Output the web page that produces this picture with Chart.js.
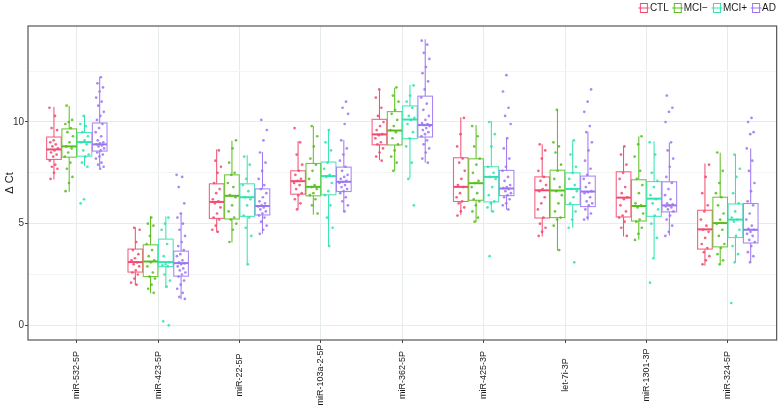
<!DOCTYPE html>
<html>
<head>
<meta charset="utf-8">
<script src="https://cdn.jsdelivr.net/npm/chart.js@4.4.1/dist/chart.umd.min.js"></script>
<style>
html,body{margin:0;padding:0;background:#fff;}
canvas{display:block;}
</style>
</head>
<body>
<canvas id="c" width="778" height="407"></canvas>
<script>
// ---------- DATA ----------
const categories = ["miR-532-5P","miR-423-5P","miR-22-5P","miR-103a-2-5P","miR-362-5P","miR-425-3P","let-7i-3P","miR-1301-3P","miR-324-5P"];
const groups = ["CTL","MCI\u2212","MCI+","AD"];
const yTickValues = [0,2.5,5,7.5,10,12.5];

// box stats per category: [lower whisker, Q1, median, Q3, upper whisker]
const ctlStats = [[7.17,8.16,8.65,9.26,10.74],[1.97,2.62,3.11,3.75,4.82],[4.57,5.26,6.07,6.96,8.65],[5.69,6.45,7.09,7.60,9.06],[8.12,8.88,9.39,10.13,11.58],[5.43,6.09,6.81,8.24,10.23],[4.37,5.28,6.64,7.30,8.90],[4.37,5.33,6.28,7.55,8.79],[2.93,3.75,4.72,5.66,7.96]];
const mciMinusStats = [[6.56,8.27,8.80,9.66,10.79],[1.58,2.40,3.14,3.96,5.36],[4.08,5.23,6.37,7.40,9.08],[5.44,6.37,6.81,7.96,9.80],[7.60,8.87,9.58,10.51,11.68],[5.06,6.15,6.99,8.19,9.85],[3.67,5.30,6.63,7.63,10.63],[4.21,5.13,5.87,7.16,9.29],[3.03,3.86,5.03,6.30,8.49]];
const mciPlusStats = [[7.83,8.32,9.01,9.48,10.33],[1.83,2.89,3.11,4.24,5.36],[2.96,5.36,6.30,6.96,8.37],[3.91,6.42,7.34,8.03,9.64],[7.22,9.18,10.12,10.79,11.83],[5.56,6.07,7.30,7.80,10.05],[4.79,5.94,6.71,7.50,9.08],[3.34,5.36,6.23,7.07,9.05],[3.12,4.32,5.20,5.97,8.41]];
const adStats = [[7.72,8.57,8.90,9.95,12.22],[1.28,2.42,3.06,3.65,5.53],[4.51,5.43,5.87,6.71,8.52],[5.56,6.58,7.06,7.78,9.11],[8.00,9.26,9.85,11.27,14.07],[5.69,6.38,6.73,7.62,9.23],[5.16,5.84,6.58,7.34,9.51],[4.42,5.58,5.90,7.06,8.98],[3.11,4.05,4.70,5.99,8.70]];

// individual observations per category
const ctlPoints = [
 [10.7,10.3,9.7,9.6,9.1,9.0,8.9,8.8,8.7,8.6,8.5,8.4,8.3,8.1,7.9,7.8,7.7,7.5,7.2],
 [4.8,4.7,4.1,3.7,3.5,3.3,3.2,3.1,3.0,2.9,2.7,2.6,2.5,2.3,2.1,2.0],
 [8.6,8.1,7.8,7.5,7.0,6.7,6.5,6.2,6.1,6.0,5.8,5.5,5.3,5.2,4.9,4.7,4.6],
 [9.7,9.0,8.4,7.9,7.6,7.4,7.2,7.1,7.0,6.9,6.7,6.5,6.4,6.2,6.0,5.7],
 [11.6,11.2,10.7,10.3,10.0,9.8,9.6,9.4,9.35,9.2,9.0,8.9,8.7,8.5,8.3,8.1],
 [10.2,9.4,8.8,8.2,8.0,7.6,7.2,6.9,6.8,6.5,6.3,6.1,6.0,5.8,5.6,5.4],
 [8.9,8.6,8.2,7.6,7.3,7.1,6.9,6.7,6.6,6.3,6.0,5.7,5.3,5.0,4.8,4.6,4.4],
 [8.8,8.4,7.9,7.5,7.2,6.8,6.5,6.3,6.2,5.9,5.6,5.4,5.3,5.1,4.8,4.4],
 [7.9,7.3,6.5,5.9,5.6,5.2,4.9,4.7,4.6,4.3,4.0,3.8,3.6,3.4,3.2,3.0]
];
const mciMinusPoints = [
 [10.8,10.1,10.0,9.9,9.7,9.5,9.3,9.0,8.8,8.7,8.5,8.3,8.0,7.7,7.3,7.0,6.6],
 [5.3,5.0,4.9,4.4,4.0,3.7,3.4,3.2,3.1,2.9,2.6,2.4,2.3,2.0,1.8,1.6],
 [9.1,8.7,8.0,7.5,7.4,7.0,6.8,6.4,6.3,5.9,5.6,5.3,5.2,5.0,4.7,4.1],
 [9.8,9.3,8.8,8.2,7.9,7.6,7.2,6.9,6.8,6.7,6.5,6.4,6.2,5.9,5.5],
 [11.7,11.3,11.0,10.6,10.4,10.1,9.8,9.6,9.5,9.2,8.9,8.6,8.3,8.0,7.6],
 [9.8,9.3,8.8,8.2,7.9,7.5,7.1,7.0,6.8,6.5,6.2,6.1,5.9,5.6,5.3,5.1],
 [10.6,9.0,8.8,8.5,7.9,7.6,7.2,6.8,6.6,6.4,6.0,5.6,5.3,5.2,4.9,3.7],
 [9.3,8.9,8.3,7.6,7.2,6.9,6.5,6.0,5.9,5.8,5.5,5.2,5.1,4.8,4.5,4.2],
 [8.5,7.6,7.0,6.5,6.3,5.9,5.5,5.2,5.0,4.7,4.4,4.0,3.8,3.5,3.2,3.0]
];
const mciPlusPoints = [
 [10.3,9.9,9.8,9.5,9.3,9.1,9.0,8.9,8.6,8.4,8.3,8.0,7.8,6.2,6.0],
 [5.3,5.0,4.7,4.0,3.4,3.1,3.0,2.95,2.9,2.5,2.2,1.9,0.2,0.0],
 [8.3,7.9,7.2,6.9,6.6,6.3,6.2,5.9,5.4,5.3,4.8,4.4,3.0],
 [9.6,9.0,8.6,8.0,7.7,7.4,7.3,7.0,6.6,6.4,5.9,5.3,4.8,3.9],
 [11.8,11.3,11.0,10.7,10.3,10.2,10.1,9.9,9.5,9.2,8.8,8.0,7.2,5.9],
 [10.0,9.4,8.8,7.8,7.5,7.3,7.2,6.8,6.4,6.1,6.0,5.8,5.6,3.4],
 [9.1,8.4,7.8,7.5,7.2,6.9,6.7,6.6,6.3,6.0,5.6,5.2,4.8,3.1],
 [9.0,8.4,7.5,7.1,6.8,6.4,6.2,6.0,5.7,5.4,5.0,4.3,3.3,2.1],
 [8.4,7.7,7.3,6.5,6.0,5.6,5.3,5.2,5.1,4.7,4.4,3.9,3.5,3.1,1.1]
];
const adPoints = [
 [12.2,11.9,11.7,11.5,11.2,11.0,10.8,10.5,10.3,10.1,9.9,9.7,9.5,9.3,9.1,9.0,8.95,8.9,8.85,8.8,8.7,8.6,8.5,8.4,8.3,8.2,8.0,7.9,7.8,7.7],
 [7.4,7.3,6.8,6.0,5.5,5.3,5.0,4.7,4.4,4.1,3.9,3.7,3.5,3.4,3.2,3.1,3.05,3.0,2.9,2.8,2.7,2.6,2.5,2.4,2.2,2.0,1.8,1.6,1.4,1.3],
 [10.1,9.6,9.1,8.5,8.0,7.6,7.2,6.9,6.7,6.5,6.3,6.1,6.0,5.9,5.85,5.8,5.7,5.6,5.5,5.4,5.3,5.1,4.9,4.7,4.5],
 [11.0,10.7,10.4,9.9,9.1,8.7,8.4,8.1,7.8,7.6,7.4,7.3,7.2,7.1,7.05,7.0,6.9,6.8,6.7,6.6,6.5,6.3,6.1,5.9,5.6],
 [14.0,13.8,13.4,13.1,12.7,12.4,12.0,11.6,11.2,10.9,10.6,10.3,10.1,9.95,9.9,9.85,9.8,9.7,9.6,9.5,9.4,9.3,9.1,8.9,8.7,8.5,8.2,8.0],
 [12.3,11.5,10.7,10.3,9.9,9.2,8.7,8.2,7.8,7.6,7.3,7.1,6.9,6.8,6.75,6.7,6.6,6.5,6.4,6.3,6.2,6.0,5.9,5.7],
 [11.6,11.0,10.5,9.8,9.5,9.0,8.6,8.1,7.7,7.4,7.2,7.0,6.8,6.6,6.55,6.5,6.3,6.1,6.0,5.9,5.7,5.5,5.3,5.2],
 [11.3,10.7,10.5,10.0,9.0,8.6,8.2,7.8,7.3,7.0,6.7,6.4,6.2,6.0,5.95,5.9,5.85,5.8,5.7,5.6,5.4,5.2,4.9,4.6,4.4],
 [10.2,10.0,9.5,9.4,8.7,8.1,7.6,7.0,6.6,6.1,5.9,5.5,5.2,4.9,4.75,4.7,4.6,4.5,4.4,4.2,4.1,3.9,3.6,3.4,3.1]
];

// ---------- STYLE ----------
const colors = ["#F2496F","#58BE1C","#2FE3AE","#9B74F2"];
const FONT = '"Liberation Sans", Arial, Helvetica, sans-serif';
const allStats = [ctlStats, mciMinusStats, mciPlusStats, adStats];
const allPoints = [ctlPoints, mciMinusPoints, mciPlusPoints, adPoints];
const dodge = 0.1875, boxHalf = 0.09, jitterAmp = 0.055;

function rgba(hex, a){
  const n = parseInt(hex.slice(1),16);
  return `rgba(${n>>16},${(n>>8)&255},${n&255},${a})`;
}
function groupCenter(ci, gi){ return ci + 1 + (gi - 1.5) * dodge; }

const datasets = groups.map((g, gi) => {
  const pts = [];
  allPoints[gi].forEach((vals, ci) => {
    vals.forEach((v, k) => {
      const j = ((k * 0.6180339 + ci * 0.37 + gi * 0.21) % 1) * 2 - 1; // deterministic spread
      pts.push({x: groupCenter(ci, gi) + j * jitterAmp, y: v});
    });
  });
  return {label: g, data: pts, backgroundColor: rgba(colors[gi], 0.85), borderWidth: 0, pointRadius: 1.35, pointHoverRadius: 1.35};
});

const boxPlugin = {
  id: 'boxes',
  beforeDatasetsDraw(chart){
    const {ctx, scales:{x, y}} = chart;
    ctx.save();
    allStats.forEach((stats, gi) => {
      stats.forEach((s, ci) => {
        const c = groupCenter(ci, gi);
        const xl = x.getPixelForValue(c - boxHalf), xr = x.getPixelForValue(c + boxHalf), xc = x.getPixelForValue(c);
        const [lo, q1, med, q3, hi] = s.map(v => y.getPixelForValue(v));
        ctx.strokeStyle = colors[gi];
        ctx.lineWidth = 1;
        ctx.beginPath();
        ctx.moveTo(xc, hi); ctx.lineTo(xc, q3);
        ctx.moveTo(xc, q1); ctx.lineTo(xc, lo);
        ctx.stroke();
        ctx.fillStyle = '#fff';
        ctx.fillRect(xl, q3, xr - xl, q1 - q3);
        ctx.strokeStyle = rgba(colors[gi], 0.85);
        ctx.lineWidth = 1.1;
        ctx.strokeRect(xl, q3, xr - xl, q1 - q3);
        ctx.strokeStyle = colors[gi];
        ctx.lineWidth = 2;
        ctx.beginPath(); ctx.moveTo(xl, med); ctx.lineTo(xr, med); ctx.stroke();
      });
    });
    ctx.restore();
  },
  afterDraw(chart){
    const {ctx, chartArea:a, scales:{x}} = chart;
    ctx.save();
    // panel border
    ctx.strokeStyle = '#555';
    ctx.lineWidth = 1.2;
    ctx.strokeRect(a.left, a.top, a.right - a.left, a.bottom - a.top);
    // category labels (vertical, centered)
    ctx.fillStyle = '#1a1a1a';
    ctx.font = '9px ' + FONT;
    ctx.textAlign = 'center';
    ctx.textBaseline = 'middle';
    categories.forEach((c, i) => {
      const px = x.getPixelForValue(i + 1);
      ctx.save();
      ctx.translate(px, 375);
      ctx.rotate(-Math.PI / 2);
      ctx.fillText(c, 0, 0);
      ctx.restore();
    });
    // legend
    ctx.font = '10px ' + FONT;
    ctx.textAlign = 'left';
    const iconW = 11, gapIT = 1, gapItems = 3;
    const widths = groups.map(g => ctx.measureText(g).width);
    const total = widths.reduce((s, w) => s + iconW + gapIT + w, 0) + gapItems * (groups.length - 1);
    let lx = 776 - total;
    const ly = 8;
    groups.forEach((g, gi) => {
      ctx.strokeStyle = colors[gi];
      ctx.lineWidth = 1;
      ctx.strokeRect(lx + 2.5, ly - 4.5, 7, 9);
      ctx.beginPath(); ctx.moveTo(lx + 0.5, ly); ctx.lineTo(lx + 11.5, ly); ctx.stroke();
      ctx.fillStyle = '#1a1a1a';
      ctx.fillText(g, lx + iconW + gapIT, ly + 0.5);
      lx += iconW + gapIT + widths[gi] + gapItems;
    });
    ctx.restore();
  }
};

new Chart(document.getElementById('c'), {
  type: 'scatter',
  data: {datasets},
  plugins: [boxPlugin],
  options: {
    responsive: false,
    animation: false,
    events: [],
    layout: {padding: {top: 26, right: 1, left: 0, bottom: 0}},
    plugins: {legend: {display: false}, tooltip: {enabled: false}},
    scales: {
      x: {
        type: 'linear', min: 0.4, max: 9.6,
        afterBuildTicks: s => { s.ticks = categories.map((c, i) => ({value: i + 1})); },
        afterFit: s => { s.height = 67; },
        ticks: {display: false},
        grid: {color: '#E6ECEC', lineWidth: 1, tickLength: 3, tickColor: '#444'},
        border: {display: false}
      },
      y: {
        min: -0.72, max: 14.72,
        afterBuildTicks: s => { s.ticks = yTickValues.map(v => ({value: v})); },
        afterFit: s => { s.width = 28; },
        ticks: {
          callback: v => (v % 5 === 0 ? String(v) : ''),
          font: {size: 10, family: FONT}, color: '#333', padding: 1
        },
        grid: {
          color: c => (c.tick && c.tick.value % 5 === 0 ? '#E9EBEB' : '#F3F4F4'),
          tickColor: c => (c.tick && c.tick.value % 5 === 0 ? '#444' : 'rgba(0,0,0,0)'),
          tickLength: 3, lineWidth: 1
        },
        border: {display: false},
        title: {display: true, text: '\u0394 Ct', font: {size: 11, family: FONT}, color: '#1a1a1a', padding: {top: 3, bottom: 0}}
      }
    }
  }
});
</script>
</body>
</html>
